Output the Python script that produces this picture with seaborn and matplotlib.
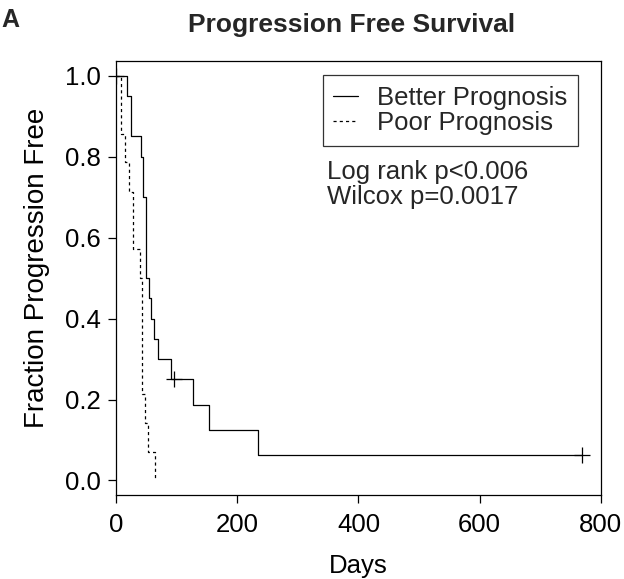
import matplotlib
matplotlib.use("Agg")
import matplotlib.pyplot as plt
import numpy as np
import pandas as pd
import seaborn as sns

# ---------------------------------------------------------------------------
# Kaplan-Meier step data
# ---------------------------------------------------------------------------

better_days = [0, 17.6, 24, 41, 44, 49.5, 55, 57, 63, 69, 91, 127.5, 154, 235, 769]
better_surv = [1.0, 0.95, 0.85, 0.80, 0.70, 0.50, 0.45, 0.40, 0.35, 0.30, 0.25,
               0.1875, 0.125, 0.0625, 0.0625]

poor_days = [0, 8, 14, 21, 28.5, 40, 43.5, 48, 52, 65]
poor_surv = [1.0, 0.857, 0.786, 0.714, 0.571, 0.5, 0.214, 0.143, 0.071, 0.0]

censor_days = [0, 96, 769]
censor_surv = [1.0, 0.25, 0.0625]

group_names = ["Better Prognosis", "Poor Prognosis"]
stats_lines = ["Log rank p<0.006", "Wilcox p=0.0017"]

sns.set_theme(style="ticks")
plt.rcParams["font.family"] = ["Liberation Sans", "DejaVu Sans"]

FS = 18.5

df = pd.concat([
    pd.DataFrame({"day": better_days, "surv": better_surv, "group": group_names[0]}),
    pd.DataFrame({"day": poor_days, "surv": poor_surv, "group": group_names[1]}),
], ignore_index=True)

fig = plt.figure(figsize=(6.24, 5.79), dpi=100)
ax = fig.add_axes([0.186, 0.145, 0.777, 0.75])

sns.lineplot(
    data=df, x="day", y="surv", hue="group", style="group",
    palette=["black", "black"],
    dashes={group_names[0]: "", group_names[1]: (2.5, 2.5)},
    drawstyle="steps-post", linewidth=0.9, estimator=None, sort=False, ax=ax,
)
sns.scatterplot(x=censor_days, y=censor_surv, marker="+", s=120,
                color="black", linewidth=0.9, ax=ax, legend=False, zorder=5)

ax.set_xlim(0, 800)
ax.set_ylim(-0.036, 1.037)
ax.set_xticks([0, 200, 400, 600, 800])
ax.set_yticks([0.0, 0.2, 0.4, 0.6, 0.8, 1.0])
ax.set_yticklabels(["0.0", "0.2", "0.4", "0.6", "0.8", "1.0"])
ax.tick_params(axis="both", labelsize=FS, length=6, width=0.9, color="black",
               labelcolor="black")
ax.tick_params(axis="x", pad=7)
ax.tick_params(axis="y", pad=5)
for sp in ax.spines.values():
    sp.set_visible(True)
    sp.set_color("black")
    sp.set_linewidth(0.9)

ax.set_xlabel("Days", fontsize=FS, labelpad=12, color="black")
ax.set_ylabel("Fraction Progression Free", fontsize=20, labelpad=11,
              color="black", y=0.524)
ax.set_title("Progression Free Survival", fontsize=19, fontweight="bold",
             pad=21, x=0.485)

leg = ax.legend(title=None, loc="upper right", bbox_to_anchor=(0.953, 0.967),
                borderaxespad=0, fontsize=FS, frameon=True, fancybox=False,
                handlelength=0.95, handletextpad=0.75, borderpad=0.42,
                labelspacing=0.05)
leg.get_frame().set_edgecolor("black")
leg.get_frame().set_linewidth(0.9)
for line in leg.get_lines():
    line.set_linewidth(0.9)

ax.text(348, 0.763, stats_lines[0], fontsize=FS, va="center", ha="left")
ax.text(348, 0.701, stats_lines[1], fontsize=FS, va="center", ha="left")

fig.text(0.002, 0.987, "A", fontsize=18, fontweight="bold", va="top", ha="left")

fig.savefig("out.png", dpi=100)
